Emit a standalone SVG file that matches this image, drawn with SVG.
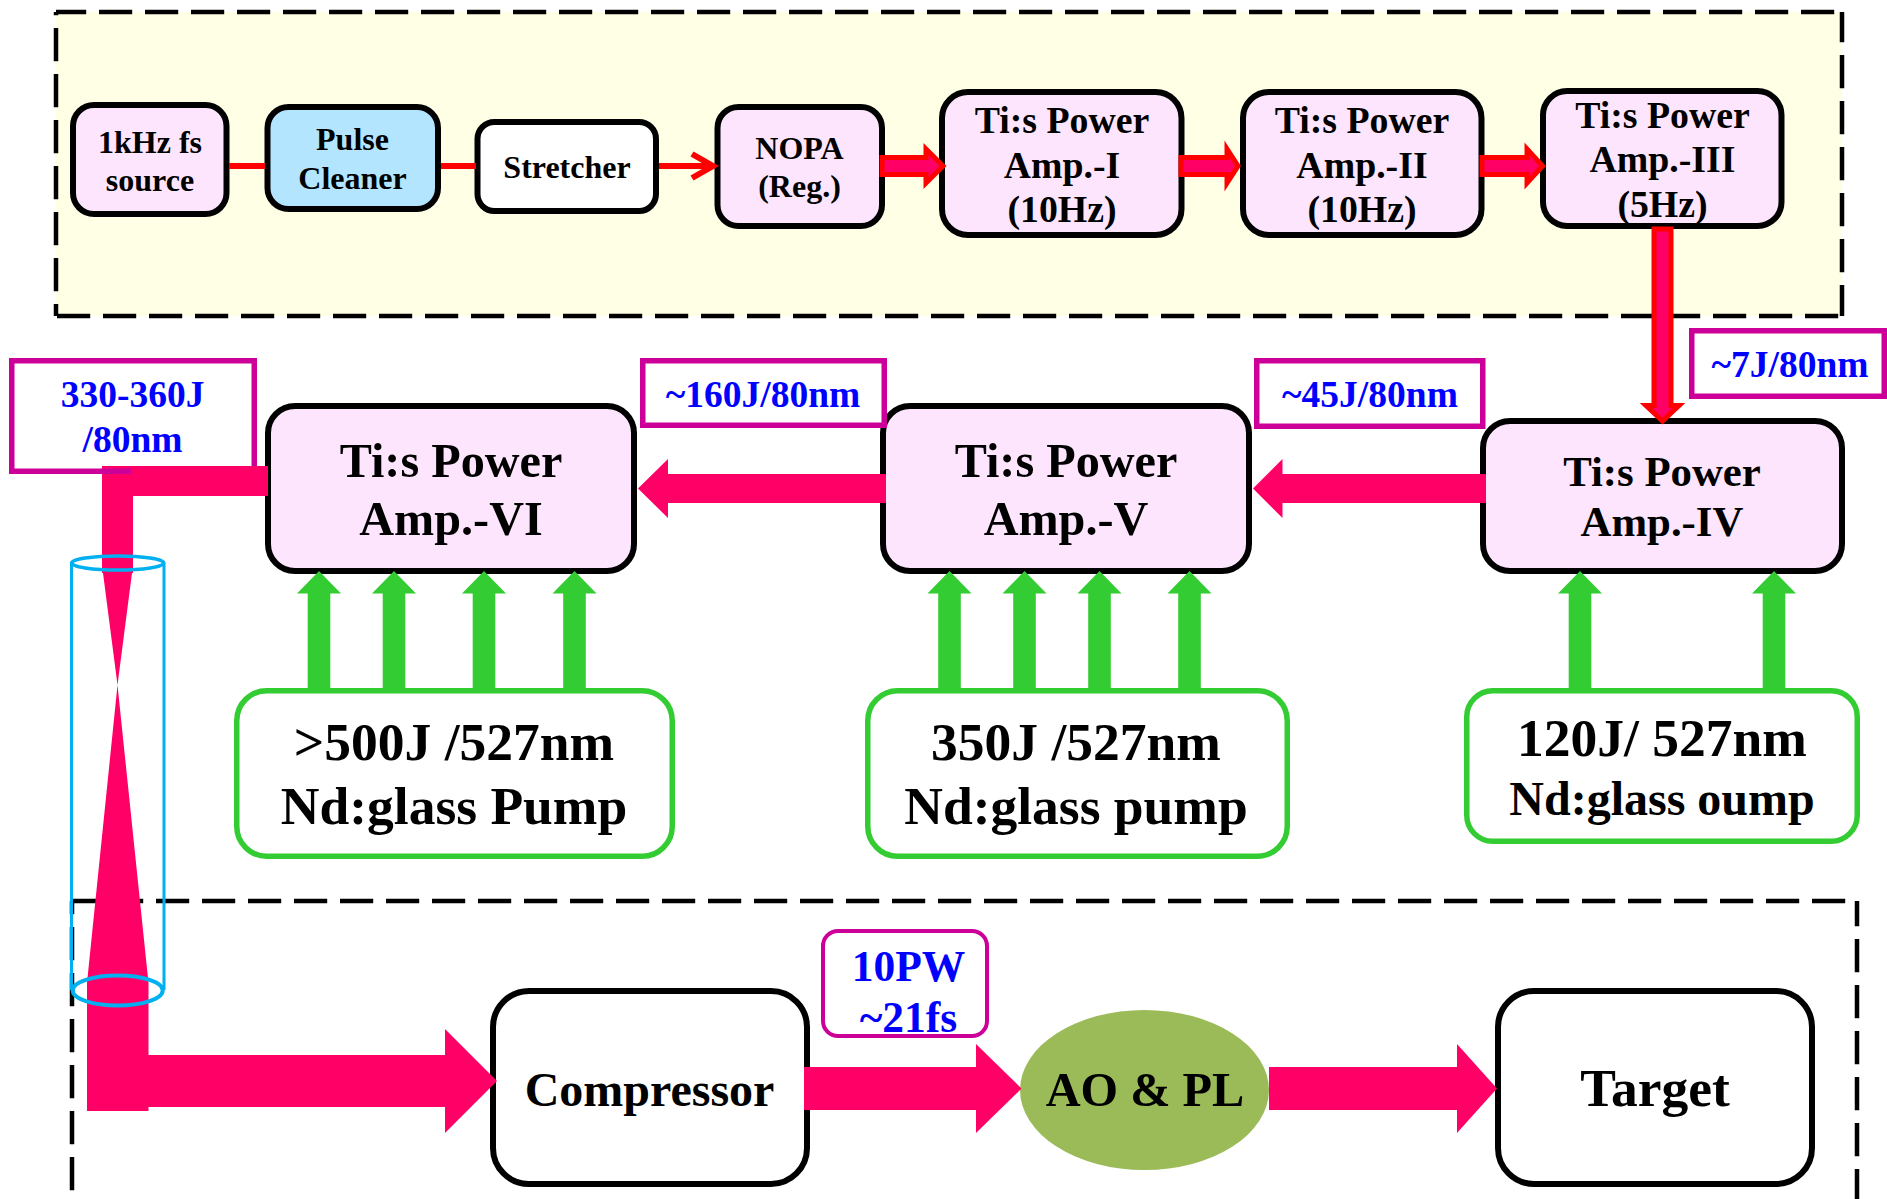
<svg xmlns="http://www.w3.org/2000/svg" width="1887" height="1199" viewBox="0 0 1887 1199">
<style>
text{font-family:"Liberation Serif","Times New Roman",serif;font-weight:700;text-anchor:middle;fill:#000}
.box{stroke:#000;stroke-width:6}
.amp{fill:#FDE6FD}
.w{fill:#fff}
.lab{fill:#fff;stroke:#CC0099;stroke-width:5.5}
.lab2{fill:#fff;stroke:#CC0099;stroke-width:4}
.pump{fill:#fff;stroke:#33CC33;stroke-width:5.5}
.blue{fill:#0000FF;font-size:37.500px}
.s31{font-size:32px}
.s37{font-size:37.800px}
.s42{font-size:42.800px}
.s48{font-size:48.200px}
.s53{font-size:53.500px}
.dash{fill:none;stroke:#000;stroke-width:4.5;stroke-dasharray:33.2 12.8}
.g{fill:#33CC33}
.p{fill:#FF0066}
.rp{fill:#FF0066;stroke:#FF0000;stroke-width:5}
.r{fill:none;stroke:#FF0000;stroke-width:6}
.cyl{fill:none;stroke:#00B0F0}
</style>
<defs>
<polygon id="gar" class="g" points="0,0 22,22.500 11.300,22.500 11.300,117 -11.300,117 -11.300,22.500 -22,22.500"/>
</defs>

<g id="frames">
<rect x="56" y="12" width="1786" height="304" fill="#FFFFE5"/>
<path class="dash" stroke-dashoffset="3" d="M56 12H1842"/>
<path class="dash" stroke-dashoffset="0" d="M57 316H1842"/>
<path class="dash" stroke-dashoffset="30" d="M56 12V316"/>
<path class="dash" stroke-dashoffset="3" d="M1842 12V316"/>
<path class="dash" stroke-dashoffset="8" d="M72 901H1857"/>
<path class="dash" stroke-dashoffset="20" d="M72 901V1199"/>
<path class="dash" stroke-dashoffset="8" d="M1857 901V1199"/>
</g>

<g id="source"><rect class="box amp" x="73" y="105" width="153.500" height="109" rx="21"/><text class="s31" x="150" y="153">1kHz fs</text><text class="s31" x="150" y="191">source</text></g>
<g id="cleaner"><rect class="box" fill="#B3E5FF" x="267.500" y="107" width="170.500" height="102" rx="21"/><text class="s31" x="352.500" y="150">Pulse</text><text class="s31" x="352.500" y="189">Cleaner</text></g>
<g id="stretcher"><rect class="box w" x="477.500" y="122" width="178.500" height="89" rx="17"/><text class="s31" x="567" y="178">Stretcher</text></g>
<g id="nopa"><rect class="box amp" x="717.500" y="107" width="164.500" height="119" rx="21"/><text class="s31" x="799.500" y="159">NOPA</text><text class="s31" x="799.500" y="197">(Reg.)</text></g>
<g id="amp1"><rect class="box amp" x="942" y="92" width="239.500" height="143" rx="26"/><text class="s37" x="1062" y="133">Ti:s Power</text><text class="s37" x="1062" y="178">Amp.-I</text><text class="s37" x="1062" y="222">(10Hz)</text></g>
<g id="amp2"><rect class="box amp" x="1243" y="92" width="238.500" height="143" rx="26"/><text class="s37" x="1362" y="133">Ti:s Power</text><text class="s37" x="1362" y="178">Amp.-II</text><text class="s37" x="1362" y="222">(10Hz)</text></g>
<g id="amp3"><rect class="box amp" x="1543" y="91" width="238.500" height="135" rx="24"/><text class="s37" x="1662.500" y="128">Ti:s Power</text><text class="s37" x="1662.500" y="172">Amp.-III</text><text class="s37" x="1662.500" y="217">(5Hz)</text></g>
<g id="amp4"><rect class="box amp" x="1483" y="421" width="359" height="150" rx="27"/><text class="s42" x="1662" y="486">Ti:s Power</text><text class="s42" x="1662" y="536">Amp.-IV</text></g>
<g id="amp5"><rect class="box amp" x="883" y="406" width="366" height="165" rx="27"/><text class="s48" x="1066" y="477">Ti:s Power</text><text class="s48" x="1066" y="535">Amp.-V</text></g>
<g id="amp6"><rect class="box amp" x="268" y="406" width="366" height="165" rx="27"/><text class="s48" x="451" y="477">Ti:s Power</text><text class="s48" x="451" y="535">Amp.-VI</text></g>

<g id="label-330"><rect class="lab" x="11.750" y="360.750" width="242.500" height="110.500"/><text class="blue" x="132.600" y="407">330-360J</text><text class="blue" x="132.600" y="452">/80nm</text></g>
<g id="label-160"><rect class="lab" x="642.750" y="360.750" width="241.500" height="64.500"/><text class="blue" x="763" y="407">~160J/80nm</text></g>
<g id="label-45"><rect class="lab" x="1256.750" y="360.750" width="226" height="65.500"/><text class="blue" x="1370" y="407">~45J/80nm</text></g>
<g id="label-7"><rect class="lab" x="1691.750" y="330.750" width="192.500" height="65.500"/><text class="blue" x="1790" y="377">~7J/80nm</text></g>

<g id="pump-6"><rect class="pump" x="236.750" y="690.750" width="435.500" height="165.500" rx="30"/><text class="s53" x="454" y="760">&gt;500J /527nm</text><text class="s53" x="454" y="824">Nd:glass Pump</text></g>
<g id="pump-5"><rect class="pump" x="867.750" y="690.750" width="419.500" height="165.500" rx="30"/><text class="s53" x="1076" y="760">350J /527nm</text><text class="s53" x="1076" y="824">Nd:glass pump</text></g>
<g id="pump-4"><rect class="pump" x="1466.750" y="690.750" width="390.500" height="150.500" rx="26"/><text class="s53" x="1662" y="755.500">120J/ 527nm</text><text x="1662" y="815" font-size="48">Nd:glass oump</text></g>

<g id="compressor"><rect class="box w" x="493" y="991" width="314" height="193" rx="36"/><text x="649.500" y="1105.500" font-size="48">Compressor</text></g>
<g id="label-10pw"><rect class="lab2" x="823" y="931" width="164" height="105" rx="15"/><text x="908.500" y="980.500" font-size="43.500" style="fill:#00f">10PW</text><text x="908.500" y="1032" font-size="43.500" style="fill:#00f">~21fs</text></g>
<g id="ao"><ellipse cx="1144.500" cy="1090" rx="124.500" ry="80" fill="#9BBB59"/></g>
<g id="target"><rect class="box w" x="1498" y="991" width="314" height="193" rx="36"/><text x="1655" y="1106" font-size="53.500">Target</text></g>

<g id="connectors">
<path class="r" d="M229 166H265M441 166H476M659 166H713M692 154L713 166L692 178"/>
<polygon class="rp" points="882,157.500 926,157.500 926,149 943,166 926,183 926,174.500 882,174.500"/>
<polygon class="rp" points="1181,157.500 1227,157.500 1227,149 1238,166 1227,183 1227,174.500 1181,174.500"/>
<polygon class="rp" points="1482,157.500 1527,157.500 1527,149 1542.500,166 1527,183 1527,174.500 1482,174.500"/>
<polygon class="rp" points="1654,229 1671,229 1671,405.500 1679,405.500 1662.500,421 1646,405.500 1654,405.500"/>

<polygon class="p" points="1486,474 1282.500,474 1282.500,459 1253,488.500 1282.500,518 1282.500,503 1486,503"/>
<polygon class="p" points="886,474 668,474 668,459 638,488.500 668,518 668,503 886,503"/>

<polygon class="p" points="102,466 133,466 133,573 132,573 117.500,685 148.500,983 148.500,1055 445,1055 445,1029 497,1081 445,1133 445,1107 148.500,1107 148.500,1111 87,1111 87,983 117.500,685 103,573 102,573"/>
<rect x="102" y="468.500" width="29.500" height="5.500" fill="#CC0099"/>
<rect class="p" x="131.500" y="466" width="136.500" height="30"/>

<polygon class="p" points="804,1067 976,1067 976,1044 1021.500,1088.500 976,1133 976,1110 804,1110"/>
<polygon class="p" points="1269,1067 1457,1067 1457,1044 1497,1088.500 1457,1133 1457,1110 1269,1110"/>

<use href="#gar" x="319" y="571"/><use href="#gar" x="394" y="571"/><use href="#gar" x="484" y="571"/><use href="#gar" x="574.500" y="571"/>
<use href="#gar" x="949.500" y="571"/><use href="#gar" x="1024.500" y="571"/><use href="#gar" x="1099.500" y="571"/><use href="#gar" x="1189.500" y="571"/>
<use href="#gar" x="1580" y="571"/><use href="#gar" x="1774" y="571"/>
</g>

<g id="cylinder">
<path class="cyl" stroke-width="3" d="M71.500 563V990M164 563V990"/>
<ellipse class="cyl" stroke-width="3.500" cx="117.700" cy="563" rx="46" ry="7"/>
<ellipse class="cyl" stroke-width="4" cx="117.700" cy="990.500" rx="45" ry="15"/>
</g>

<g id="ao-label"><text x="1145" y="1106" font-size="48.300">AO &amp; PL</text></g>
</svg>
